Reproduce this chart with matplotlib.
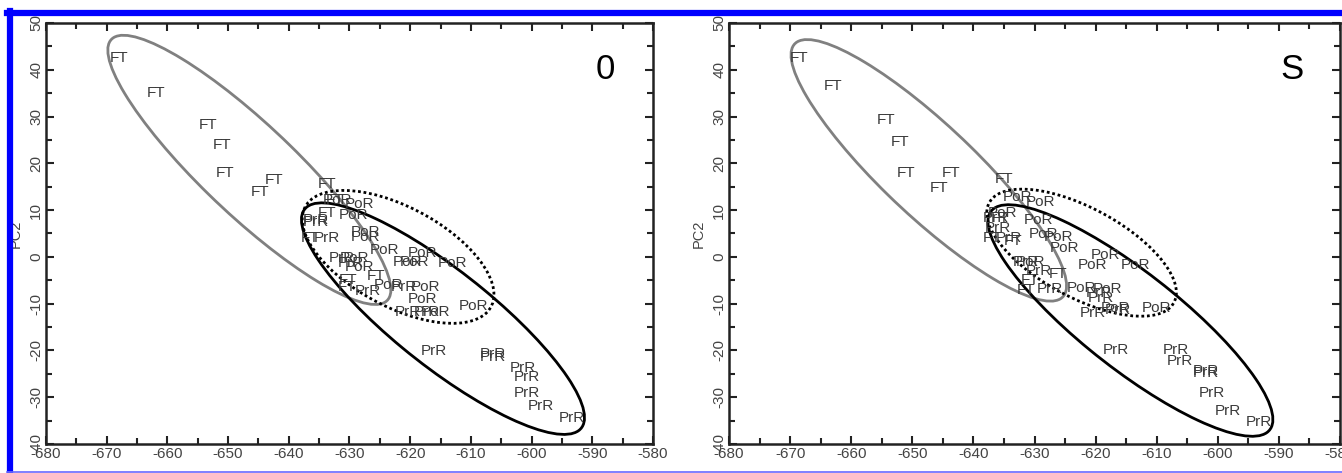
import matplotlib.pyplot as plt
from matplotlib.patches import Ellipse
from matplotlib.lines import Line2D
from matplotlib.ticker import MultipleLocator

# ---- panel "0" ----
ft0_x = [-667.9, -661.8, -653.3, -651.0, -650.5, -644.8, -642.5, -633.7,
         -633.7, -636.5, -630.2, -625.6, -630.4, -632.3]
ft0_y = [42.6, 35.1, 28.3, 23.9, 18.0, 13.9, 16.4, 15.6,
         9.3, 4.0, -4.9, -4.1, -6.5, 12.2]
por0_x = [-631.9, -628.4, -629.3, -627.4, -627.4, -624.2, -617.9, -620.4,
          -619.3, -613.0, -629.1, -623.5, -617.5, -617.9, -615.8, -609.5, -628.4]
por0_y = [12.2, 11.3, 9.0, 5.4, 4.2, 1.4, 0.8, -1.1,
          -1.1, -1.4, -0.3, -6.0, -6.5, -9.0, -11.7, -10.6, -2.1]
prr0_x = [-635.6, -635.6, -633.7, -631.2, -629.8, -627.0, -621.1, -620.4,
          -617.2, -616.1, -606.3, -606.3, -601.4, -600.7, -600.7, -598.4, -593.3]
prr0_y = [7.4, 7.9, 4.0, -0.3, -1.4, -7.2, -6.5, -11.7,
          -11.7, -20.2, -20.7, -21.4, -23.8, -25.7, -29.1, -31.9, -34.4]

# ---- panel "S" ----
ftS_x = [-668.6, -663.0, -654.3, -652.0, -651.1, -643.7, -645.6, -634.9,
         -635.6, -637.0, -633.5, -626.1, -630.7, -631.4]
ftS_y = [42.6, 36.5, 29.2, 24.6, 17.9, 17.9, 14.7, 16.6,
         8.3, 4.0, 3.3, -3.6, -4.9, -7.0]
porS_x = [-632.8, -629.0, -629.3, -628.6, -626.1, -625.1, -618.4, -620.5,
          -613.5, -630.7, -622.3, -618.1, -616.7, -610.0, -635.3]
porS_y = [12.9, 11.8, 7.9, 5.0, 4.3, 1.8, 0.4, -1.7,
          -1.7, -1.0, -6.7, -6.9, -11.0, -11.0, 9.3]
prrS_x = [-636.3, -636.0, -634.2, -631.4, -629.3, -627.5, -619.5, -619.1,
          -620.5, -616.3, -616.7, -606.9, -606.2, -602.0, -602.0, -600.9, -598.4, -593.2]
prrS_y = [8.3, 6.1, 4.0, -1.0, -3.1, -6.9, -7.8, -8.8,
          -12.0, -11.3, -20.0, -20.0, -22.3, -24.5, -24.8, -29.1, -33.0, -35.3]

# confidence ellipses: (cx, cy, width, height, angle)
ell0 = {'FT': (-646.5, 18.6, 72.1, 17.0, -51.7),
        'PrR': (-614.6, -13.2, 65.5, 18.3, -47.0),
        'PoR': (-622.0, 0.0, 37.7, 19.6, -39.7)}
ellS = {'FT': (-647.3, 18.5, 69.8, 17.0, -51.9),
        'PrR': (-614.3, -13.6, 65.5, 18.3, -47.0),
        'PoR': (-622.3, 0.9, 37.3, 17.6, -39.0)}

panels = [
    ('0', ft0_x, ft0_y, por0_x, por0_y, prr0_x, prr0_y, ell0),
    ('S', ftS_x, ftS_y, porS_x, porS_y, prrS_x, prrS_y, ellS),
]

plt.rcParams['font.family'] = ['Liberation Sans Narrow', 'Liberation Sans', 'DejaVu Sans']
plt.rcParams['axes.unicode_minus'] = False

fig = plt.figure(figsize=(13.42, 4.73), dpi=100)
ax_pos = [[46/1342, 1-444/473, 607/1342, 421/473],
          [729/1342, 1-444/473, 611/1342, 421/473]]

ell_style = {'FT': dict(edgecolor='#808080', linestyle='-', linewidth=2.0),
             'PrR': dict(edgecolor='#000000', linestyle='-', linewidth=2.0),
             'PoR': dict(edgecolor='#000000', linestyle=(0, (1, 1)), linewidth=2.0)}

txtcol = '#3a3a3a'
for pos, (tag, fx, fy, ox, oy, rx, ry, ell) in zip(ax_pos, panels):
    ax = fig.add_axes(pos)
    ax.set_xlim(-680, -580)
    ax.set_ylim(-40, 50)

    for name in ['FT', 'PoR', 'PrR']:
        cx, cy, w, h, ang = ell[name]
        ax.add_patch(Ellipse((cx, cy), w, h, angle=ang, fill=False, **ell_style[name]))

    for xs, ys, lab in [(fx, fy, 'FT'), (ox, oy, 'PoR'), (rx, ry, 'PrR')]:
        for x, y in zip(xs, ys):
            ax.text(x, y, lab, ha='center', va='center', fontsize=11, color=txtcol)

    ax.text(0.922, 0.89, tag, transform=ax.transAxes, ha='center', va='center',
            fontsize=25, color='black', family=['Liberation Sans', 'DejaVu Sans'])

    ax.xaxis.set_major_locator(MultipleLocator(10))
    ax.xaxis.set_minor_locator(MultipleLocator(5))
    ax.yaxis.set_major_locator(MultipleLocator(10))
    ax.yaxis.set_minor_locator(MultipleLocator(5))
    ax.tick_params(which='both', direction='in', top=True, right=True,
                   width=1.5, color='#222222', labelcolor='#444444', labelsize=11)
    ax.tick_params(which='major', length=6)
    ax.tick_params(which='minor', length=4)
    ax.tick_params(axis='x', pad=2)
    ax.tick_params(axis='y', pad=2)
    for lbl in ax.get_yticklabels():
        lbl.set_rotation(90)
        lbl.set_va('center')
    for s in ax.spines.values():
        s.set_linewidth(1.8)
        s.set_color('#222222')

    ax.set_xlabel('PC1', fontsize=10.5, color='#444444')
    ax.set_ylabel('PC2', fontsize=10.5, color='#444444')
    ax.xaxis.set_label_coords(0.5, -0.072)
    ax.yaxis.set_label_coords(-0.038, 0.5)

# blue frame of the original figure
fig.add_artist(Line2D([7/1342, 1], [1-13.5/473, 1-13.5/473], color='#0000ff', lw=4.5,
                      transform=fig.transFigure))
fig.add_artist(Line2D([9.5/1342, 9.5/1342], [0, 1-11/473], color='#0000ff', lw=4.5,
                      transform=fig.transFigure))
fig.add_artist(Line2D([7/1342, 1], [1-472/473, 1-472/473], color='#6a6aff', lw=1.2,
                      transform=fig.transFigure))

fig.savefig('out.png', dpi=100)
